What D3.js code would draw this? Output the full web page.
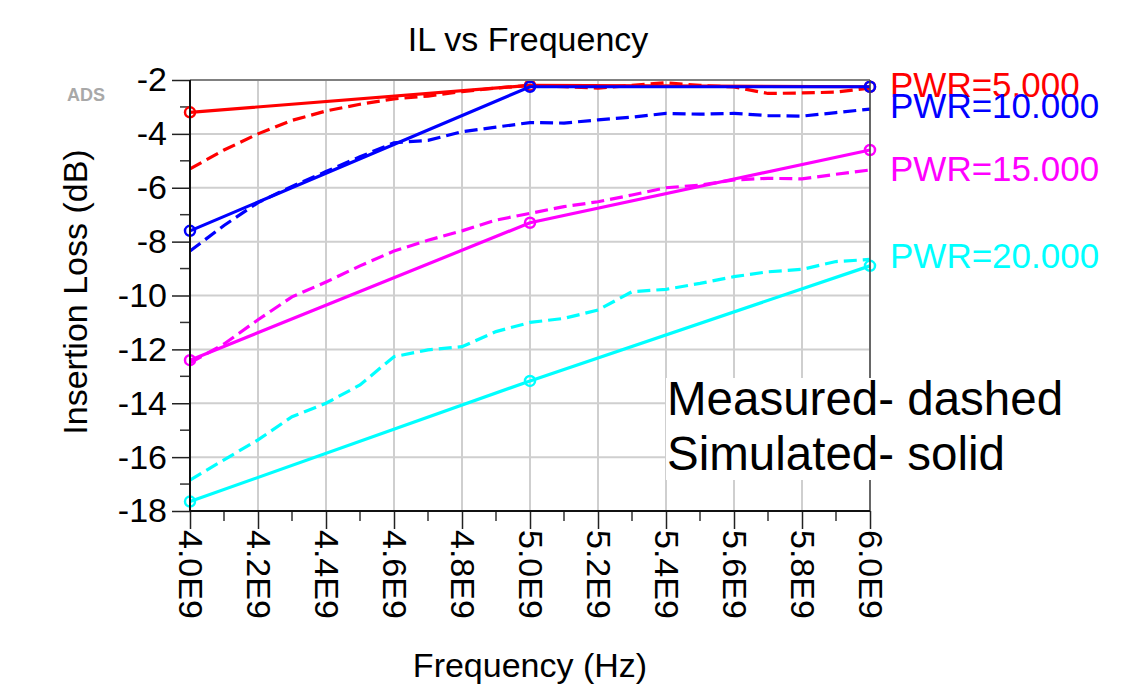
<!DOCTYPE html>
<html>
<head>
<meta charset="utf-8">
<script src="https://cdn.jsdelivr.net/npm/d3@7.9.0/dist/d3.min.js"></script>
<style>
  body { margin: 0; background: #fff; }
  svg { display: block; font-family: "Liberation Sans", Arial, sans-serif; }
</style>
</head>
<body>
<svg id="chart" width="1131" height="684"></svg>
<script>
// ---- data (frequency in GHz, insertion loss in dB) ----
const simFreq = [4.0, 5.0, 6.0];
const measFreq = [4.0, 4.1, 4.2, 4.3, 4.4, 4.5, 4.6, 4.7, 4.8, 4.9, 5.0,
                  5.1, 5.2, 5.3, 5.4, 5.5, 5.6, 5.7, 5.8, 5.9, 6.0];

const seriesNames = ["PWR=5.000", "PWR=10.000", "PWR=15.000", "PWR=20.000"];
const seriesColors = ["#ff0000", "#0000ff", "#ff00ff", "#00ffff"];

// simulated - solid
const simPwr5  = [-3.2, -2.2, -2.25];
const simPwr10 = [-7.6, -2.25, -2.25];
const simPwr15 = [-12.4, -7.3, -4.6];
const simPwr20 = [-17.65, -13.17, -8.9];

// measured - dashed
const measPwr5  = [-5.3, -4.6, -4.0, -3.5, -3.15, -2.9, -2.7, -2.6, -2.43, -2.3, -2.2,
                   -2.25, -2.3, -2.2, -2.1, -2.2, -2.26, -2.5, -2.48, -2.45, -2.3];
const measPwr10 = [-8.35, -7.4, -6.55, -5.95, -5.4, -4.85, -4.33, -4.24, -3.92, -3.75, -3.58,
                   -3.6, -3.48, -3.38, -3.24, -3.27, -3.24, -3.32, -3.34, -3.21, -3.08];
const measPwr15 = [-12.5, -11.8, -10.9, -10.05, -9.5, -8.9, -8.35, -7.95, -7.6, -7.2, -6.95,
                   -6.7, -6.52, -6.27, -6.0, -5.9, -5.71, -5.65, -5.67, -5.5, -5.34];
const measPwr20 = [-16.85, -16.1, -15.36, -14.5, -14.0, -13.32, -12.27, -12.02, -11.9, -11.34, -11.0,
                   -10.85, -10.54, -9.86, -9.77, -9.55, -9.3, -9.12, -9.03, -8.74, -8.66];

const yTicks = [-2, -4, -6, -8, -10, -12, -14, -16, -18];
const xTicks = [4.0, 4.2, 4.4, 4.6, 4.8, 5.0, 5.2, 5.4, 5.6, 5.8, 6.0];

const simData = [simPwr5, simPwr10, simPwr15, simPwr20];
const measData = [measPwr5, measPwr10, measPwr15, measPwr20];

// label baselines for the trace names (pixels)
const labelBaselines = [97, 118, 181, 268];

///////////////////////////////////////////////////////

const width = 1131, height = 684;
const margin = { top: 80, right: 261, bottom: 173, left: 190 };
const innerWidth = width - margin.left - margin.right;
const innerHeight = height - margin.top - margin.bottom;

const svg = d3.select("#chart");

const xScale = d3.scaleLinear().domain([4.0, 6.0]).range([0, innerWidth]);
const yScale = d3.scaleLinear().domain([-18, -2]).range([innerHeight, 0]);

// title
svg.append("text")
    .attr("x", 528).attr("y", 51)
    .attr("text-anchor", "middle")
    .style("font-size", "34px")
    .text("IL vs Frequency");

// ADS mark
svg.append("text")
    .attr("x", 67).attr("y", 101)
    .style("font-size", "18px")
    .style("font-weight", "bold")
    .style("fill", "#a8a8a8")
    .text("ADS");

const g = svg.append("g")
    .attr("transform", `translate(${margin.left},${margin.top})`);

// grid
g.append("g").selectAll("line")
    .data(xTicks)
    .enter().append("line")
    .attr("x1", d => xScale(d)).attr("x2", d => xScale(d))
    .attr("y1", 0).attr("y2", innerHeight)
    .attr("stroke", "#cfcfcf").attr("stroke-width", 2);

g.append("g").selectAll("line")
    .data(yTicks)
    .enter().append("line")
    .attr("x1", 0).attr("x2", innerWidth)
    .attr("y1", d => yScale(d)).attr("y2", d => yScale(d))
    .attr("stroke", "#cfcfcf").attr("stroke-width", 2);

// minor ticks
const minorY = [-3, -5, -7, -9, -11, -13, -15, -17];
const minorX = [4.1, 4.3, 4.5, 4.7, 4.9, 5.1, 5.3, 5.5, 5.7, 5.9];

g.append("g").selectAll("line")
    .data(minorY)
    .enter().append("line")
    .attr("x1", -10).attr("x2", 0)
    .attr("y1", d => yScale(d)).attr("y2", d => yScale(d))
    .attr("stroke", "#333").attr("stroke-width", 1.5);

g.append("g").selectAll("line")
    .data(minorX)
    .enter().append("line")
    .attr("x1", d => xScale(d)).attr("x2", d => xScale(d))
    .attr("y1", innerHeight).attr("y2", innerHeight + 10)
    .attr("stroke", "#333").attr("stroke-width", 1.5);

// axes
const yAxis = g.append("g")
    .call(d3.axisLeft(yScale).tickValues(yTicks).tickSize(18).tickPadding(5)
        .tickFormat(d => String(d)));
yAxis.select(".domain").remove();
yAxis.selectAll(".tick line").attr("stroke", "#222").attr("stroke-width", 1.5);
yAxis.selectAll(".tick text")
    .style("font-size", "34px")
    .style("font-family", "'Liberation Sans', Arial, sans-serif")
    .attr("fill", "#000");

const xAxis = g.append("g")
    .attr("transform", `translate(0,${innerHeight})`)
    .call(d3.axisBottom(xScale).tickValues(xTicks).tickSize(18)
        .tickFormat(d => d.toFixed(1) + "E9"));
xAxis.select(".domain").remove();
xAxis.selectAll(".tick line").attr("stroke", "#222").attr("stroke-width", 1.5);
xAxis.selectAll(".tick text")
    .style("font-size", "34px")
    .style("font-family", "'Liberation Sans', Arial, sans-serif")
    .attr("fill", "#000")
    .attr("text-anchor", "start")
    .attr("dy", null)
    .attr("dominant-baseline", "central")
    .attr("y", 0)
    .attr("transform", "translate(0,19) rotate(90)");

// traces
const line = d3.line()
    .x(d => xScale(d[0]))
    .y(d => yScale(d[1]));

measData.forEach((vals, i) => {
    g.append("path")
        .datum(vals.map((v, j) => [measFreq[j], v]))
        .attr("d", line)
        .attr("fill", "none")
        .attr("stroke", seriesColors[i])
        .attr("stroke-width", 3.2)
        .attr("stroke-dasharray", "13,6");
});

simData.forEach((vals, i) => {
    const pts = vals.map((v, j) => [simFreq[j], v]);
    g.append("path")
        .datum(pts)
        .attr("d", line)
        .attr("fill", "none")
        .attr("stroke", seriesColors[i])
        .attr("stroke-width", 3.2);
    g.selectAll(null)
        .data(pts)
        .enter().append("circle")
        .attr("cx", d => xScale(d[0]))
        .attr("cy", d => yScale(d[1]))
        .attr("r", 5)
        .attr("fill", "none")
        .attr("stroke", seriesColors[i])
        .attr("stroke-width", 2.5);
});

// note box
svg.append("rect")
    .attr("x", 666).attr("y", 378)
    .attr("width", 402).attr("height", 102)
    .attr("fill", "#fff");
svg.append("text")
    .attr("x", 667).attr("y", 415)
    .style("font-size", "47.5px")
    .text("Measured- dashed");
svg.append("text")
    .attr("x", 667).attr("y", 470)
    .style("font-size", "47.5px")
    .text("Simulated- solid");

// frame
g.append("line").attr("x1", 0).attr("x2", innerWidth).attr("y1", 0).attr("y2", 0)
    .attr("stroke", "#808080").attr("stroke-width", 2);
g.append("line").attr("x1", innerWidth).attr("x2", innerWidth).attr("y1", 0).attr("y2", innerHeight)
    .attr("stroke", "#444").attr("stroke-width", 1.5);
g.append("line").attr("x1", 0).attr("x2", 0).attr("y1", 0).attr("y2", innerHeight)
    .attr("stroke", "#111").attr("stroke-width", 2);
g.append("line").attr("x1", 0).attr("x2", innerWidth).attr("y1", innerHeight).attr("y2", innerHeight)
    .attr("stroke", "#111").attr("stroke-width", 2);

// trace names
seriesNames.forEach((name, i) => {
    svg.append("text")
        .attr("x", 890).attr("y", labelBaselines[i])
        .style("font-size", "35px")
        .style("fill", seriesColors[i])
        .text(name);
});

// axis titles
svg.append("text")
    .attr("transform", "translate(87,292) rotate(-90)")
    .attr("text-anchor", "middle")
    .style("font-size", "34px")
    .text("Insertion Loss (dB)");

svg.append("text")
    .attr("x", 530).attr("y", 677)
    .attr("text-anchor", "middle")
    .style("font-size", "34px")
    .text("Frequency (Hz)");
</script>
</body>
</html>
